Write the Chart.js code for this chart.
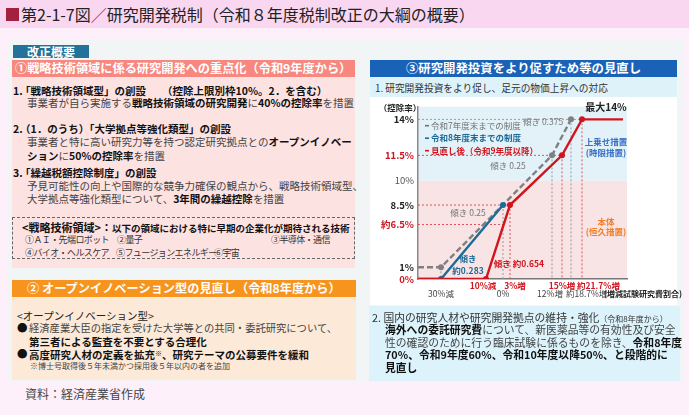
<!DOCTYPE html>
<html lang="ja">
<head>
<meta charset="utf-8">
<title>第2-1-7図 研究開発税制</title>
<script src="https://cdn.jsdelivr.net/npm/chart.js@4.4.1/dist/chart.umd.min.js"></script>
<style>
  html, body { margin: 0; padding: 0; }
  body {
    width: 689px; height: 415px; overflow: hidden; position: relative;
    background: #fdf0fa; color: #444;
    font-family: "Noto Sans CJK JP", "Noto Sans", sans-serif;
  }
  .a { position: absolute; white-space: nowrap; }
  .box { position: absolute; box-sizing: border-box; }
  .t { position: absolute; white-space: nowrap; font-size: 10.5px; line-height: 13px; }
  .t b, b.t { color: #111; }
  .small { font-size: 8px; }
  .fields { font-size: 9px; letter-spacing: -0.6px; color: #333; }
</style>
</head>
<body>

<!-- title -->
<div class="box" style="left:0;top:0;width:689px;height:28px;background:#f9d7f1"></div>
<div class="box" style="left:6px;top:8px;width:13px;height:13px;background:#a3213f"></div>
<div class="a" style="left:21px;top:4px;font-size:16px;line-height:21px;color:#222">第2-1-7図<span style="color:#c8143c">／</span>研究開発税制（令和８年度税制改正の大綱の概要）</div>

<!-- panel -->
<div class="box" style="left:8px;top:40px;width:676px;height:342px;background:#f1f5f5"></div>

<!-- left column -->
<div class="box" style="left:13px;top:45px;width:76px;height:13px;background:#22729a"></div>
<div class="a" style="left:27px;top:45px;font-size:12px;line-height:13px;font-weight:bold;color:#fff">改正概要</div>

<div class="box" style="left:12px;top:60px;width:343px;height:17px;background:#f8877f"></div>
<div class="a" style="left:15px;top:60px;font-size:12.2px;line-height:17px;font-weight:bold;color:#fff">①戦略技術領域に係る研究開発への重点化（令和9年度から）</div>
<div class="box" style="left:12px;top:77px;width:343px;height:191px;background:#fde2e2"></div>

<b class="t" style="left:13px;top:83.5px">1.</b>
<b class="t" style="left:20px;top:83.5px">「戦略技術領域型」の創設</b>
<b class="t" style="left:162px;top:83.5px">（控除上限別枠10%。2．を含む）</b>
<div class="t" style="left:27px;top:95.5px">事業者が自ら実施する<b>戦略技術領域の研究開発</b>に<b>40%の控除率</b>を措置</div>

<b class="t" style="left:13px;top:121.5px">2.</b>
<b class="t" style="left:20px;top:121.5px">（1．のうち）「大学拠点等強化類型」の創設</b>
<div class="t" style="left:27px;top:134.5px">事業者と特に高い研究力等を持つ認定研究拠点との<b>オープンイノベー</b></div>
<div class="t" style="left:27px;top:148.5px"><b>ション</b>に<b>50%の控除率</b>を措置</div>

<b class="t" style="left:13px;top:165.5px">3.</b>
<b class="t" style="left:20px;top:165.5px">「繰越税額控除制度」の創設</b>
<div class="t" style="left:27px;top:178.5px">予見可能性の向上や国際的な競争力確保の観点から、戦略技術領域型、</div>
<div class="t" style="left:27px;top:191.5px">大学拠点等強化類型について、<b>3年間の繰越控除</b>を措置</div>

<div class="box" style="left:12px;top:217px;width:343px;height:42px;border:1px dashed #666"></div>
<div class="t" style="left:22px;top:220.5px"><b style="font-size:11px">&lt;戦略技術領域&gt;：</b><b style="font-size:9.5px">以下の領域における特に早期の企業化が期待される技術</b></div>
<div class="t fields" style="left:25px;top:232.5px">①ＡＩ・先端ロボット</div>
<div class="t fields" style="left:117px;top:232.5px">②量子</div>
<div class="t fields" style="left:271px;top:232.5px">③半導体・通信</div>
<div class="t fields" style="left:25px;top:245.5px">④バイオ・ヘルスケア</div>
<div class="t fields" style="left:116px;top:245.5px">⑤フュージョンエネルギー</div>
<div class="t fields" style="left:214px;top:245.5px">⑥宇宙</div>

<div class="box" style="left:12px;top:280px;width:344px;height:17px;background:#f7941e"></div>
<div class="a" style="left:27px;top:280px;font-size:12.2px;line-height:17px;font-weight:bold;color:#fff">② オープンイノベーション型の見直し（令和8年度から）</div>
<div class="box" style="left:12px;top:297px;width:344px;height:83px;background:#fde9d7"></div>

<div class="t" style="left:17px;top:308.5px;color:#222">&lt;オープンイノベーション型&gt;</div>
<div class="t" style="left:17px;top:320.5px;color:#111">●</div>
<div class="t" style="left:29px;top:320.5px;font-size:10.3px">経済産業大臣の指定を受けた大学等との共同・委託研究について、</div>
<b class="t" style="left:29px;top:334.5px">第三者による監査を不要とする合理化</b>
<div class="t" style="left:17px;top:346.5px;color:#111">●</div>
<b class="t" style="left:29px;top:346.5px">高度研究人材の定義を拡充<span style="font-size:7px;vertical-align:3px">※</span>、研究テーマの公募要件を緩和</b>
<div class="t small" style="left:30px;top:358.5px">※博士号取得後５年未満かつ採用後５年以内の者を追加</div>

<div class="a" style="left:25px;top:386px;font-size:12px;line-height:16px;color:#444">資料：経済産業省作成</div>

<!-- right column -->
<div class="box" style="left:370px;top:60px;width:307px;height:17px;background:#1a62b8"></div>
<div class="a" style="left:370px;top:60px;width:307px;text-align:center;font-size:12.4px;line-height:17px;font-weight:bold;color:#fff">③研究開発投資をより促すため等の見直し</div>
<div class="box" style="left:370px;top:77px;width:307px;height:20px;background:#def2fa"></div>
<div class="a" style="left:375px;top:81px;font-size:9.7px;line-height:14px;color:#333">1. 研究開発投資をより促し、足元の物価上昇への対応</div>
<div class="box" style="left:370px;top:97px;width:307px;height:208px;background:#fff"></div>

<div id="chartBox" style="position:absolute;left:355px;top:97px;width:330px;height:210px">
  <canvas id="rdChart"></canvas>
</div>

<div class="box" style="left:369px;top:306px;width:311px;height:75px;background:#ddf3fc"></div>
<div class="t" style="left:372px;top:310.5px;font-size:10.8px;color:#333">2. 国内の研究人材や研究開発拠点の維持・強化<span style="font-size:8px">（令和8年度から）</span></div>
<div class="t" style="left:385px;top:322.5px;font-size:10.8px"><b>海外への委託研究費</b>について、新医薬品等の有効性及び安全</div>
<div class="t" style="left:385px;top:335.5px;font-size:10.8px">性の確認のために行う臨床試験に係るものを除き、<b>令和8年度</b></div>
<b class="t" style="left:385px;top:347.5px;font-size:10.8px">70%、令和9年度60%、令和10年度以降50%、と段階的に</b>
<b class="t" style="left:385px;top:360.5px;font-size:10.8px">見直し</b>

<script>
// 増減試験研究費割合(%) と 控除率(%)
const oldRateX = [-40, -30, 12, 18.7];            // 令和7年度末までの制度
const oldRateY = [1, 1, 11.5, 14];
const r8RateX = [-40, -30, 0];                     // 令和8年度末までの制度
const r8RateY = [0, 0, 8.5];
const newRateX = [-40, -10, 3, 15, 21.7, 32];      // 見直し後（令和9年度以降）
const newRateY = [0, 0, 8.5, 11.5, 14, 14];
const newRateAtZero = 6.5;                         // 見直し後、増減0%時の控除率（約6.5%）
const permanentCap = 10;                           // 本体（恒久措置）の上限

const yTickValues = [0, 1, 6.5, 8.5, 10, 11.5, 14];
const yTickLabels = ['0%', '1%', '約6.5%', '8.5%', '10%', '11.5%', '14%'];
const xTickValues = [-30, -10, 0, 3, 12, 15, 18.7, 21.7];
const xTickLabels = ['30%減', '10%減', '0%', '3%増', '12%増', '15%増', '約18.7%増', '約21.7%増'];

const seriesLabels = ['令和7年度末までの制度', '令和8年度末までの制度', '見直し後（令和9年度以降）'];

const RED = '#d2141e', BLUE = '#1d6b98', GRAY = '#808080';
const FAMILY = "'Noto Sans CJK JP', 'Noto Sans', sans-serif";
Chart.defaults.font.family = FAMILY;
Chart.defaults.color = '#333';

// the original figure is schematic: its axes are stretched piecewise
const warpKnots = {
    x: [[-40, 0], [-30, 23], [-10, 68], [0, 85], [3, 92], [12, 134], [15, 144], [18.7, 153], [21.7, 164], [33, 209]],
    y: [[0, 0], [1, 12], [6.5, 56], [8.5, 76], [10, 101], [11.5, 127], [14, 164], [15, 177]]
};

function warp(knots, v) {
    const total = knots[knots.length - 1][1];
    for (let i = 1; i < knots.length; i++) {
        const [v0, p0] = knots[i - 1];
        const [v1, p1] = knots[i];
        if (v <= v1 || i === knots.length - 1) return (p0 + (v - v0) / (v1 - v0) * (p1 - p0)) / total;
    }
    return 0;
}

function unwarp(knots, d) {
    const p = d * knots[knots.length - 1][1];
    for (let i = 1; i < knots.length; i++) {
        const [v0, p0] = knots[i - 1];
        const [v1, p1] = knots[i];
        if (p <= p1 || i === knots.length - 1) return v0 + (p - p0) / (p1 - p0) * (v1 - v0);
    }
    return 0;
}

class WarpScale extends Chart.LinearScale {
    static id = 'warp';
    static defaults = Chart.LinearScale.defaults;
    getPixelForValue(value) {
        if (value === null || value === undefined) return NaN;
        return this.getPixelForDecimal(warp(warpKnots[this.id], value));
    }
    getValueForPixel(pixel) {
        return unwarp(warpKnots[this.id], this.getDecimalForPixel(pixel));
    }
}
Chart.register(WarpScale);

const X_MIN = -40, X_MAX = 33;
const toPoints = (xs, ys) => xs.map((x, i) => ({ x, y: ys[i] }));
const edgePoint = x => x === X_MIN || x === newRateX[newRateX.length - 1];

function series(label, xs, ys, color, dash) {
    return {
        label, data: toPoints(xs, ys),
        borderColor: color, backgroundColor: color,
        borderWidth: 2.4, borderDash: dash || [],
        pointRadius: ctx => (ctx.raw && edgePoint(ctx.raw.x)) ? 0 : 3,
        pointBorderWidth: 0, tension: 0, fill: false
    };
}

function guide(points, color) {
    return { data: points, borderColor: color, borderWidth: 1, borderDash: [2, 2], pointRadius: 0, fill: false };
}

// dotted guides from each knot back to the axes
const rPt = i => ({ x: newRateX[i], y: newRateY[i] });
const oPt = i => ({ x: oldRateX[i], y: oldRateY[i] });
const bPt = i => ({ x: r8RateX[i], y: r8RateY[i] });
const RED_GUIDE = '#e0535a', GRAY_GUIDE = '#9a9a9a';
const guides = [
    guide([{ x: X_MIN, y: rPt(2).y }, rPt(2), { x: rPt(2).x, y: 0 }], RED_GUIDE),
    guide([{ x: X_MIN, y: rPt(3).y }, rPt(3), { x: rPt(3).x, y: 0 }], RED_GUIDE),
    guide([rPt(4), { x: rPt(4).x, y: 0 }], RED_GUIDE),
    guide([{ x: X_MIN, y: newRateAtZero }, { x: bPt(2).x, y: newRateAtZero }], RED_GUIDE),
    guide([bPt(2), { x: bPt(2).x, y: 0 }], GRAY_GUIDE),
    guide([oPt(2), { x: oPt(2).x, y: 0 }], GRAY_GUIDE),
    guide([{ x: X_MIN, y: oPt(3).y }, rPt(4)], GRAY_GUIDE),
    guide([oPt(3), { x: oPt(3).x, y: 0 }], GRAY_GUIDE),
    guide([oPt(1), { x: oPt(1).x, y: 0 }], GRAY_GUIDE)
];

const redSeries = series(seriesLabels[2], newRateX, newRateY, RED);
const blueSeries = series(seriesLabels[1], r8RateX, r8RateY, BLUE);
const graySeries = series(seriesLabels[0], oldRateX, oldRateY, GRAY, [6, 3]);

const font = (size, weight) => `${weight || 'normal'} ${size}px ${FAMILY}`;
const tickValue = ctx => (ctx && ctx.tick) ? ctx.tick.value : null;

const bandsPlugin = {
    id: 'bands',
    beforeDraw(chart) {
        const { ctx, chartArea: a, scales: { y } } = chart;
        const split = y.getPixelForValue(permanentCap);
        ctx.save();
        ctx.fillStyle = '#e3f2f8';
        ctx.fillRect(a.left, a.top, a.right - a.left, split - a.top);
        ctx.fillStyle = '#f8e4e4';
        ctx.fillRect(a.left, split, a.right - a.left, a.bottom - split);
        ctx.restore();
    }
};

const legendPlugin = {
    id: 'innerLegend',
    afterDraw(chart) {
        const { ctx, chartArea: a } = chart;
        const items = [
            { text: seriesLabels[0], color: '#707070', weight: 'normal' },
            { text: seriesLabels[1], color: BLUE, weight: 'bold' },
            { text: seriesLabels[2], color: RED, weight: 'bold' }
        ];
        ctx.save();
        ctx.textBaseline = 'middle';
        items.forEach((it, i) => {
            const y = a.top + 19 + i * 12.5;
            ctx.strokeStyle = it.color;
            ctx.lineWidth = 1.6;
            ctx.beginPath();
            ctx.moveTo(a.left + 7, y);
            ctx.lineTo(a.left + 11, y);
            ctx.stroke();
            ctx.fillStyle = it.color;
            ctx.font = font(8.5, it.weight);
            ctx.textAlign = 'left';
            ctx.fillText(it.text, a.left + 13, y);
        });
        ctx.restore();
    }
};

const notesPlugin = {
    id: 'notes',
    afterDraw(chart) {
        const { ctx } = chart;
        const notes = [
            { t: '（控除率）', x: 45, y: 11, c: '#222', s: 8.5, w: 'bold' },
            { t: '最大14%', x: 251, y: 10, c: '#222', s: 10, w: 'bold' },
            { t: '傾き 0.375', x: 168, y: 25, c: '#777', s: 8.5, a: 'left' },
            { t: '傾き 0.25', x: 153, y: 69, c: '#777', s: 8.5 },
            { t: '傾き 0.25', x: 113, y: 116, c: '#777', s: 8.5 },
            { t: '傾き', x: 113, y: 162, c: BLUE, s: 8.5, w: 'bold' },
            { t: '約0.283', x: 113, y: 174, c: BLUE, s: 8.5, w: 'bold' },
            { t: '傾き 約0.654', x: 164, y: 167, c: RED, s: 8.5, w: 'bold' },
            { t: '上乗せ措置', x: 251, y: 45, c: '#3b70c7', s: 8.5, w: 'bold' },
            { t: '(時限措置)', x: 251, y: 56, c: '#3b70c7', s: 8.5, w: 'bold' },
            { t: '本体', x: 251, y: 125, c: '#f07f2a', s: 8.5, w: 'bold' },
            { t: '(恒久措置)', x: 251, y: 135, c: '#f07f2a', s: 8.5, w: 'bold' },
            { t: '(増減試験研究費割合)', x: 249, y: 197, c: '#222', s: 8, w: 'bold', a: 'left' }
        ];
        ctx.save();
        ctx.textBaseline = 'middle';
        notes.forEach(n => {
            ctx.font = font(n.s, n.w);
            ctx.fillStyle = n.c;
            ctx.textAlign = n.a || 'center';
            ctx.fillText(n.t, n.x, n.y);
        });
        ctx.restore();
    }
};

// x labels sit on two rows: revised thresholds (red) above, older ones below
const xLabelPlugin = {
    id: 'xLabels',
    afterDraw(chart) {
        const { ctx, chartArea: a, scales: { x } } = chart;
        const shift = { '-10': -3, '3': 5, '12': -2 };
        ctx.save();
        ctx.textBaseline = 'middle';
        xTickValues.forEach((v, i) => {
            const text = xTickLabels[i];
            const revised = newRateX.includes(v);
            const px = x.getPixelForValue(v);
            const py = a.bottom + (revised ? 7 : 15);
            ctx.font = font(8.5, revised ? 'bold' : 'normal');
            ctx.fillStyle = revised ? RED : '#444';
            if (text.startsWith('約')) {
                ctx.textAlign = 'left';
                ctx.fillText(text, px - 5, py);
            } else {
                ctx.textAlign = 'center';
                ctx.fillText(text, px + (shift[String(v)] || 0), py);
            }
        });
        ctx.restore();
    }
};

new Chart(document.getElementById('rdChart'), {
    type: 'line',
    data: { datasets: [redSeries, blueSeries, graySeries, ...guides] },
    options: {
        responsive: true,
        maintainAspectRatio: false,
        animation: false,
        layout: { padding: { top: 5, right: 58, left: 0, bottom: 0 } },
        plugins: { legend: { display: false }, tooltip: { enabled: false } },
        scales: {
            x: {
                type: 'warp', min: X_MIN, max: X_MAX,
                grid: { display: false, drawTicks: false },
                border: { display: true, color: '#777', width: 1.5 },
                ticks: { display: false },
                afterFit: s => { s.height = 28; }
            },
            y: {
                type: 'warp', min: 0, max: 15,
                grid: { display: false, drawTicks: false },
                border: { display: true, color: '#888', width: 1.5 },
                afterBuildTicks: s => { s.ticks = yTickValues.map(v => ({ value: v })); },
                afterFit: s => { s.width = 63; },
                ticks: {
                    padding: 4,
                    callback: (v, i) => yTickLabels[i],
                    color: ctx => {
                        const v = tickValue(ctx);
                        return [0, 6.5, 11.5].includes(v) ? RED : (v === 10 ? '#555' : '#222');
                    },
                    font: ctx => ({ size: 9.5, weight: tickValue(ctx) === 10 ? 'normal' : 'bold' })
                }
            }
        }
    },
    plugins: [bandsPlugin, legendPlugin, notesPlugin, xLabelPlugin]
});
</script>
</body>
</html>
